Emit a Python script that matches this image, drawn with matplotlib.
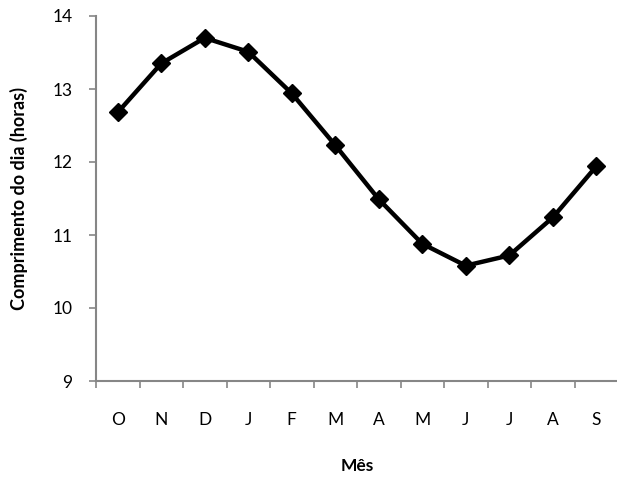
import matplotlib
matplotlib.use("Agg")
import matplotlib.pyplot as plt

months = ["O", "N", "D", "J", "F", "M", "A", "M", "J", "J", "A", "S"]
day_length = [12.68, 13.35, 13.70, 13.51, 12.94, 12.23, 11.49, 10.88, 10.58, 10.72, 11.24, 11.94]

plt.rcParams['font.family'] = ['Lato', 'DejaVu Sans']

fig = plt.figure(figsize=(6.17, 4.78), dpi=100)
ax = fig.add_axes([96/617, 1 - 381/478, (618-96)/617, (381-16)/478])

x = list(range(len(months)))
ax.plot(x, day_length, color='black', lw=3.2, marker='D', markersize=9, zorder=3, clip_on=False)

ax.set_xlim(-0.5, len(months) - 0.5)
ax.set_ylim(9, 14)
ax.set_yticks([9, 10, 11, 12, 13, 14])
ax.set_xticks(x)
ax.set_xticklabels(months)
ax.set_xticks([i - 0.5 for i in range(len(months) + 1)], minor=True)

gray = '#868686'
for s in ['top', 'right']:
    ax.spines[s].set_visible(False)
for s in ['left', 'bottom']:
    ax.spines[s].set_color(gray)
    ax.spines[s].set_linewidth(1.5)

ax.tick_params(axis='x', which='major', length=0, pad=22, labelsize=12.5)
ax.tick_params(axis='x', which='minor', length=5, width=1.2, color=gray, direction='out')
ax.tick_params(axis='y', which='major', length=5, width=1.2, color=gray, direction='out', labelsize=12.5, pad=12)

ax.set_xlabel('Mês', fontsize=12.5, fontweight='bold', labelpad=22)
ax.yaxis.set_label_coords(-(96 - 19) / 522, 0.5)
ax.set_ylabel('Comprimento do dia (horas)', fontsize=13, fontweight='bold', va='center')

fig.savefig('out.png', dpi=100)
